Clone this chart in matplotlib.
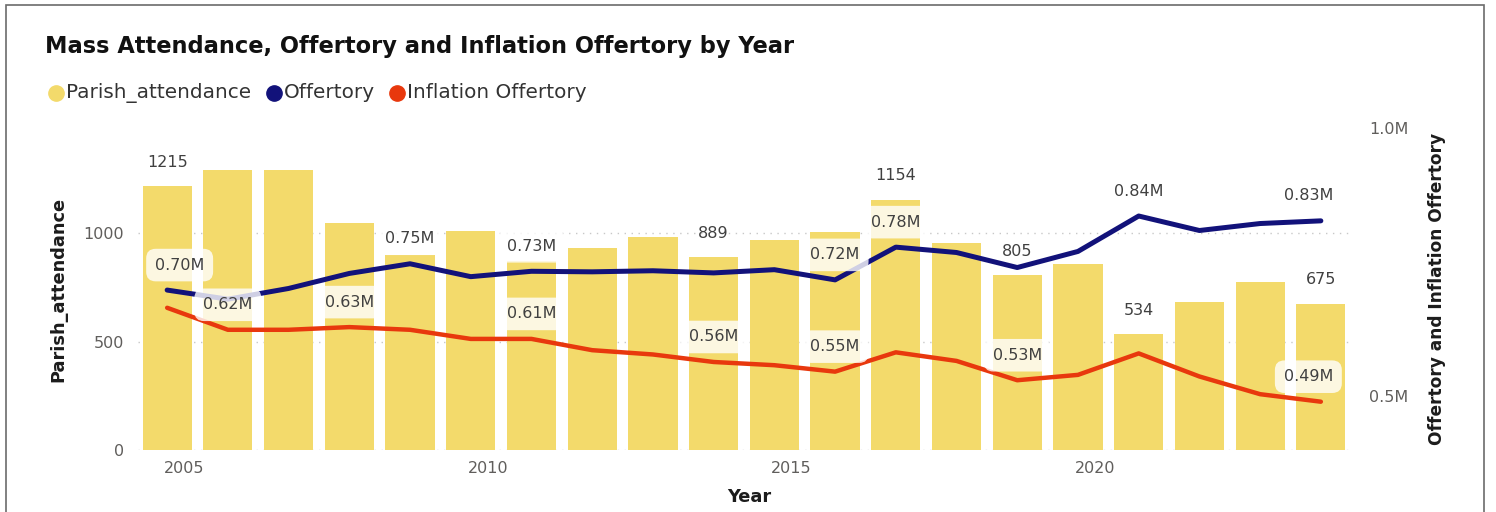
import matplotlib
matplotlib.use("Agg")
import matplotlib.pyplot as plt
from matplotlib.lines import Line2D
from matplotlib.patches import Rectangle
from matplotlib.transforms import ScaledTranslation

# ---- data ----
years = [2005, 2006, 2007, 2008, 2009, 2010, 2011, 2012, 2013, 2014,
         2015, 2016, 2017, 2018, 2019, 2020, 2021, 2022, 2023, 2024]
attendance = [1215, 1292, 1292, 1045, 900, 1008, 870, 929, 983, 889,
              967, 1005, 1154, 955, 805, 858, 534, 683, 773, 675]
offertory = [0.698, 0.681, 0.701, 0.729, 0.747, 0.723, 0.733, 0.732, 0.734, 0.730,
             0.736, 0.717, 0.778, 0.768, 0.740, 0.770, 0.836, 0.809, 0.822, 0.827]
inflation = [0.665, 0.624, 0.624, 0.629, 0.624, 0.607, 0.607, 0.586, 0.578, 0.564,
             0.558, 0.546, 0.582, 0.566, 0.530, 0.540, 0.580, 0.537, 0.504, 0.490]
bar_labels_years = [2005, 2014, 2017, 2019, 2021, 2024]
off_label_years = [2005, 2009, 2011, 2016, 2017, 2021, 2024]
inf_label_years = [2006, 2008, 2011, 2014, 2016, 2019, 2024]
xtick_years = [2005, 2010, 2015, 2020]
left_ticks = [0, 500, 1000]
right_ticks = [0.5, 1.0]
right_tick_labels = ["0.5M", "1.0M"]

BAR = "#F3DA6B"
NAVY = "#12127A"
RED = "#E8380D"
TXT = "#404040"
TICK = "#605E5C"
DARK = "#1c1c1c"
NUMFONT = "DejaVu Sans"
NUMSIZE = 11.5

W, H = 1496, 512
fig = plt.figure(figsize=(W / 100, H / 100), dpi=100)
renderer = fig.canvas.get_renderer()


def fit(txt, target, vertical=False):
    bb = txt.get_window_extent(renderer)
    cur = bb.height if vertical else bb.width
    txt.set_fontsize(txt.get_fontsize() * target / cur)


# outer frame
fig.add_artist(Rectangle((6 / W, -0.01), (1484 - 6) / W, (H - 5) / H + 0.01,
                         transform=fig.transFigure, fill=False,
                         edgecolor="#6b6b6b", linewidth=1.2))

ax = fig.add_axes([138 / W, 62 / H, (1350 - 138) / W, (450 - 128) / H])
ax.set_xlim(2004.52, 2024.48)
ax.set_ylim(0, 1484)

ax.bar(years, attendance, width=0.81, color=BAR, zorder=1)
for v in left_ticks:
    ax.axhline(v, color="#C8C8C8", linestyle=(0, (1, 4)), linewidth=1.0, zorder=0)

for s in ax.spines.values():
    s.set_visible(False)
ax.set_yticks(left_ticks)
ax.set_yticklabels([str(v) for v in left_ticks], fontsize=NUMSIZE, color=TICK,
                   family=NUMFONT)
ax.tick_params(axis="y", length=0, pad=10)
ax.set_xticks(xtick_years)
ax.set_xticklabels([str(y) for y in xtick_years], fontsize=NUMSIZE, color=TICK,
                   family=NUMFONT)
ax.tick_params(axis="x", length=0, pad=8)
for lab in ax.get_xticklabels():
    lab.set_transform(lab.get_transform() + ScaledTranslation(0.17, 0, fig.dpi_scale_trans))

ylab = ax.set_ylabel("Parish_attendance", fontsize=13, fontweight="bold", color=DARK,
                     family="DejaVu Sans")
fit(ylab, 184, vertical=True)
ax.yaxis.set_label_coords((67 - 138) / 1212, 0.5)
xlab = ax.set_xlabel("Year", fontsize=ylab.get_fontsize(), fontweight="bold", color=DARK,
                     family="DejaVu Sans")
ax.xaxis.set_label_coords((749 - 138) / 1212, (450 - 488) / 322)

for y, v in zip(years, attendance):
    if y in bar_labels_years:
        ax.annotate(str(v), (y, v), xytext=(0, 17), textcoords="offset points",
                    ha="center", va="center", fontsize=NUMSIZE, color=TXT,
                    family=NUMFONT, zorder=5)

ax2 = ax.twinx()
ax2.set_ylim(0.4, 1.0)
for s in ax2.spines.values():
    s.set_visible(False)
ax2.plot(years, offertory, color=NAVY, linewidth=3.6, solid_capstyle="round",
         solid_joinstyle="round", zorder=3)
ax2.plot(years, inflation, color=RED, linewidth=3.2, solid_capstyle="round",
         solid_joinstyle="round", zorder=3)
ax2.set_yticks(right_ticks)
ax2.set_yticklabels(right_tick_labels, fontsize=NUMSIZE, color=TICK, family=NUMFONT)
ax2.tick_params(axis="y", length=0, pad=14)
rlab = ax2.set_ylabel("Offertory and Inflation Offertory", fontsize=13, fontweight="bold",
                      color=DARK, family="DejaVu Sans")
fit(rlab, 310, vertical=True)
ax2.yaxis.set_label_coords((1428 - 138) / 1212, 0.5)

box = dict(boxstyle="round,pad=0.55,rounding_size=0.6", facecolor="white",
           edgecolor="none", alpha=0.8)


def edge_shift(y):
    if y == years[0]:
        return 9
    if y == years[-1]:
        return -9
    return 0


for y, v in zip(years, offertory):
    if y in off_label_years:
        ax2.annotate(f"{v:.2f}M", (y, v), xytext=(edge_shift(y), 18),
                     textcoords="offset points", ha="center", va="center",
                     fontsize=NUMSIZE, color=TXT, family=NUMFONT, bbox=box, zorder=6)
for y, v in zip(years, inflation):
    if y in inf_label_years:
        ax2.annotate(f"{v:.2f}M", (y, v), xytext=(edge_shift(y), 18),
                     textcoords="offset points", ha="center", va="center",
                     fontsize=NUMSIZE, color=TXT, family=NUMFONT, bbox=box, zorder=6)

# title and legend
title = fig.text(45 / W, 1 - 47 / H,
                 "Mass Attendance, Offertory and Inflation Offertory by Year",
                 fontsize=16, color="#111111", family="DejaVu Sans", fontweight="bold",
                 ha="left", va="center")
fit(title, 752)
leg_items = [("Parish_attendance", BAR, 56), ("Offertory", NAVY, 274),
             ("Inflation Offertory", RED, 397)]
leg_size = None
for label, col, xp in leg_items:
    fig.add_artist(Line2D([xp / W], [1 - 93 / H], marker="o", markersize=11,
                          color=col, transform=fig.transFigure, linestyle="none"))
    t = fig.text((xp + 10) / W, 1 - 93 / H, label, fontsize=13, color="#333333",
                 family="DejaVu Sans", ha="left", va="center")
    if leg_size is None:
        fit(t, 184)
        leg_size = t.get_fontsize()
    else:
        t.set_fontsize(leg_size)

fig.savefig("out.png", dpi=100)
